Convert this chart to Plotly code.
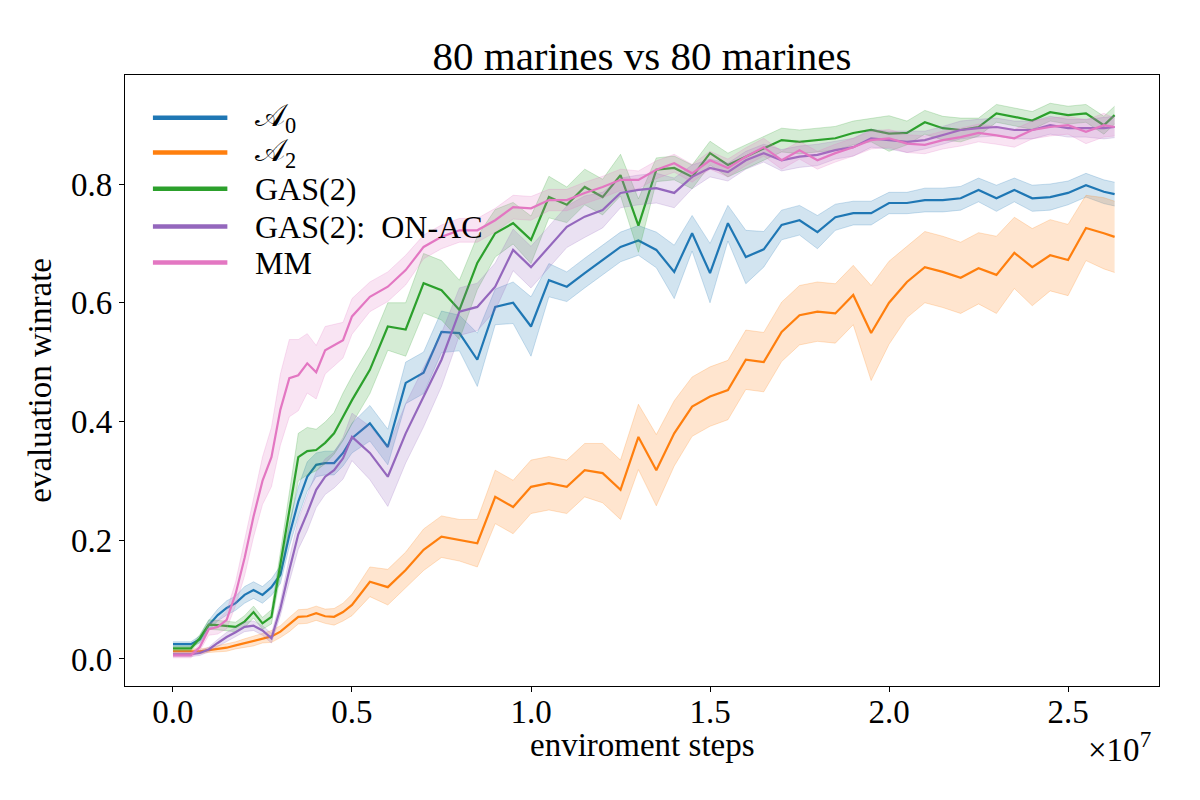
import plotly.graph_objects as go

# environment steps, in units of 1e7
steps_e7 = [0.0, 0.025, 0.05, 0.075, 0.1, 0.125, 0.15, 0.175, 0.2, 0.225, 0.25, 0.275, 0.3,
            0.325, 0.35, 0.375, 0.4, 0.425, 0.45, 0.475, 0.5, 0.55, 0.6, 0.65, 0.7, 0.75, 0.8,
            0.85, 0.9, 0.95, 1.0, 1.05, 1.1, 1.15, 1.2, 1.25, 1.3, 1.35, 1.4, 1.45, 1.5, 1.55,
            1.6, 1.65, 1.7, 1.75, 1.8, 1.85, 1.9, 1.95, 2.0, 2.05, 2.1, 2.15, 2.2, 2.25, 2.3,
            2.35, 2.4, 2.45, 2.5, 2.55, 2.6, 2.63]

a0_mean = [0.025, 0.025, 0.025, 0.033, 0.057, 0.074, 0.086, 0.094, 0.108, 0.116, 0.108, 0.121, 0.142,
           0.209, 0.265, 0.307, 0.327, 0.330, 0.330, 0.347, 0.372, 0.397, 0.357, 0.465, 0.482, 0.551, 0.549,
           0.504, 0.593, 0.600, 0.560, 0.638, 0.627, 0.650, 0.672, 0.694, 0.705, 0.689, 0.652, 0.717, 0.650, 0.734,
           0.677, 0.690, 0.731, 0.739, 0.719, 0.744, 0.751, 0.751, 0.768, 0.768, 0.773, 0.773, 0.776, 0.790, 0.776,
           0.790, 0.776, 0.778, 0.785, 0.798, 0.787, 0.783]
a0_spread = [0.004, 0.004, 0.004, 0.006, 0.008, 0.010, 0.012, 0.012, 0.014, 0.014, 0.014, 0.014, 0.015,
             0.020, 0.025, 0.025, 0.020, 0.020, 0.020, 0.022, 0.025, 0.030, 0.030, 0.035, 0.035, 0.035, 0.030,
             0.045, 0.030, 0.035, 0.050, 0.028, 0.025, 0.025, 0.025, 0.025, 0.025, 0.030, 0.045, 0.030, 0.050, 0.030,
             0.045, 0.030, 0.025, 0.025, 0.028, 0.022, 0.020, 0.020, 0.018, 0.018, 0.020, 0.020, 0.020, 0.020, 0.022,
             0.020, 0.022, 0.022, 0.020, 0.020, 0.020, 0.020]

a2_mean = [0.013, 0.013, 0.013, 0.013, 0.015, 0.017, 0.019, 0.023, 0.027, 0.030, 0.035, 0.038, 0.046,
           0.058, 0.071, 0.072, 0.077, 0.072, 0.071, 0.079, 0.091, 0.130, 0.121, 0.150, 0.184, 0.206, 0.200,
           0.195, 0.273, 0.256, 0.290, 0.296, 0.290, 0.318, 0.313, 0.285, 0.374, 0.318, 0.380, 0.425, 0.442, 0.453,
           0.504, 0.500, 0.551, 0.579, 0.585, 0.582, 0.613, 0.549, 0.600, 0.635, 0.660, 0.652, 0.642, 0.658, 0.647,
           0.684, 0.660, 0.680, 0.672, 0.726, 0.717, 0.711]
a2_spread = [0.004, 0.004, 0.004, 0.004, 0.004, 0.005, 0.006, 0.006, 0.007, 0.008, 0.008, 0.010, 0.010,
             0.012, 0.012, 0.012, 0.012, 0.012, 0.014, 0.015, 0.018, 0.025, 0.030, 0.030, 0.035, 0.035, 0.035,
             0.040, 0.045, 0.045, 0.045, 0.045, 0.045, 0.045, 0.050, 0.050, 0.055, 0.060, 0.055, 0.050, 0.050, 0.050,
             0.050, 0.050, 0.050, 0.050, 0.050, 0.050, 0.050, 0.080, 0.070, 0.060, 0.060, 0.060, 0.060, 0.060, 0.065,
             0.060, 0.065, 0.060, 0.060, 0.055, 0.060, 0.060]

gas_mean = [0.018, 0.018, 0.018, 0.035, 0.058, 0.057, 0.055, 0.054, 0.063, 0.079, 0.060, 0.071, 0.160,
            0.250, 0.340, 0.350, 0.352, 0.364, 0.380, 0.408, 0.436, 0.487, 0.560, 0.555, 0.633, 0.621, 0.588,
            0.667, 0.717, 0.734, 0.706, 0.778, 0.765, 0.795, 0.778, 0.815, 0.730, 0.824, 0.827, 0.812, 0.852, 0.832,
            0.846, 0.861, 0.874, 0.871, 0.874, 0.877, 0.886, 0.891, 0.885, 0.886, 0.904, 0.894, 0.891, 0.896, 0.919,
            0.913, 0.907, 0.921, 0.916, 0.919, 0.899, 0.916]
gas_spread = [0.004, 0.004, 0.004, 0.006, 0.008, 0.008, 0.008, 0.008, 0.010, 0.010, 0.010, 0.012, 0.020,
              0.030, 0.040, 0.040, 0.035, 0.035, 0.035, 0.040, 0.040, 0.040, 0.040, 0.045, 0.050, 0.050, 0.050,
              0.045, 0.040, 0.035, 0.040, 0.035, 0.030, 0.030, 0.030, 0.035, 0.045, 0.020, 0.020, 0.020, 0.020, 0.020,
              0.020, 0.020, 0.020, 0.020, 0.020, 0.020, 0.020, 0.020, 0.030, 0.020, 0.020, 0.020, 0.020, 0.015, 0.015,
              0.015, 0.015, 0.015, 0.015, 0.015, 0.015, 0.015]

onac_mean = [0.008, 0.008, 0.008, 0.010, 0.016, 0.027, 0.037, 0.045, 0.054, 0.056, 0.048, 0.035, 0.085,
             0.150, 0.210, 0.246, 0.285, 0.307, 0.318, 0.338, 0.374, 0.347, 0.307, 0.380, 0.441, 0.504, 0.585,
             0.593, 0.627, 0.689, 0.660, 0.694, 0.728, 0.745, 0.756, 0.785, 0.790, 0.793, 0.785, 0.812, 0.827, 0.820,
             0.840, 0.852, 0.840, 0.846, 0.849, 0.857, 0.862, 0.877, 0.874, 0.871, 0.874, 0.882, 0.891, 0.894, 0.896,
             0.891, 0.891, 0.899, 0.894, 0.894, 0.894, 0.896]
onac_spread = [0.004, 0.004, 0.004, 0.004, 0.004, 0.006, 0.008, 0.008, 0.008, 0.008, 0.008, 0.008, 0.012,
               0.020, 0.025, 0.030, 0.030, 0.030, 0.030, 0.035, 0.040, 0.045, 0.050, 0.050, 0.050, 0.045, 0.040,
               0.040, 0.040, 0.035, 0.035, 0.035, 0.035, 0.035, 0.030, 0.025, 0.025, 0.025, 0.025, 0.020, 0.015, 0.015,
               0.015, 0.015, 0.018, 0.018, 0.018, 0.015, 0.015, 0.015, 0.015, 0.018, 0.015, 0.015, 0.015, 0.015, 0.015,
               0.015, 0.015, 0.015, 0.015, 0.015, 0.018, 0.018]

mm_mean = [0.006, 0.006, 0.006, 0.020, 0.050, 0.054, 0.066, 0.110, 0.170, 0.240, 0.300, 0.340, 0.420,
           0.473, 0.478, 0.498, 0.483, 0.520, 0.529, 0.537, 0.577, 0.610, 0.627, 0.655, 0.694, 0.711, 0.722,
           0.722, 0.739, 0.761, 0.759, 0.773, 0.773, 0.785, 0.795, 0.807, 0.807, 0.824, 0.835, 0.818, 0.840, 0.827,
           0.846, 0.862, 0.840, 0.857, 0.840, 0.852, 0.862, 0.874, 0.877, 0.868, 0.866, 0.874, 0.879, 0.886, 0.882,
           0.877, 0.891, 0.896, 0.899, 0.888, 0.899, 0.896]
mm_spread = [0.004, 0.004, 0.004, 0.006, 0.010, 0.012, 0.015, 0.020, 0.030, 0.035, 0.040, 0.050, 0.060,
             0.065, 0.060, 0.050, 0.045, 0.040, 0.035, 0.030, 0.030, 0.025, 0.025, 0.025, 0.020, 0.020, 0.020,
             0.020, 0.020, 0.020, 0.020, 0.018, 0.018, 0.018, 0.018, 0.018, 0.015, 0.015, 0.015, 0.015, 0.015, 0.015,
             0.015, 0.015, 0.015, 0.015, 0.015, 0.015, 0.015, 0.015, 0.015, 0.015, 0.015, 0.015, 0.015, 0.015, 0.015,
             0.015, 0.015, 0.015, 0.015, 0.020, 0.020, 0.015]

names = ["\U0001D49C<sub>0</sub>", "\U0001D49C<sub>2</sub>", "GAS(2)", "GAS(2):\u2002ON-AC", "MM"]
colors = ["31,119,180", "255,127,14", "44,160,44", "148,103,189", "227,119,194"]
series = [(a0_mean, a0_spread), (a2_mean, a2_spread), (gas_mean, gas_spread),
          (onac_mean, onac_spread), (mm_mean, mm_spread)]

FONT = "Liberation Serif"
x = [s * 1e7 for s in steps_e7]

fig = go.Figure()
for (mean, spread), rgb in zip(series, colors):
    assert len(mean) == len(x) and len(spread) == len(x)
    upper = [m + s for m, s in zip(mean, spread)]
    lower = [m - s for m, s in zip(mean, spread)]
    fig.add_trace(go.Scatter(x=x, y=upper, mode="lines", showlegend=False,
                             line=dict(color="rgba(%s,0.22)" % rgb, width=1)))
    fig.add_trace(go.Scatter(x=x, y=lower, mode="lines", showlegend=False, fill="tonexty",
                             fillcolor="rgba(%s,0.2)" % rgb,
                             line=dict(color="rgba(%s,0.22)" % rgb, width=1)))
    fig.add_trace(go.Scatter(x=x, y=mean, mode="lines", showlegend=False,
                             line=dict(color="rgb(%s)" % rgb, width=2.2)))

# legend drawn by hand so the line samples are long like matplotlib's
leg_y = [0.930, 0.873, 0.814, 0.752, 0.693]
for name, rgb, ly in zip(names, colors, leg_y):
    fig.add_shape(type="line", xref="paper", yref="paper", x0=0.027, x1=0.099, y0=ly, y1=ly,
                  line=dict(color="rgb(%s)" % rgb, width=4.5))
    fig.add_annotation(xref="paper", yref="paper", x=0.124, y=ly, text=name, showarrow=False,
                       xanchor="left", yanchor="middle", font=dict(family=FONT, size=32, color="black"))

fig.add_annotation(xref="paper", yref="paper", x=0.5, y=-0.097, text="enviroment steps", showarrow=False,
                   xanchor="center", yanchor="middle", font=dict(family=FONT, size=33, color="black"))
fig.add_annotation(xref="paper", yref="paper", x=-0.083, y=0.5, text="evaluation winrate", showarrow=False,
                   textangle=-90, xanchor="center", yanchor="middle",
                   font=dict(family=FONT, size=33, color="black"))
fig.add_annotation(xref="paper", yref="paper", x=0.994, y=-0.1, text="\u00d710<sup>7</sup>", showarrow=False,
                   xanchor="right", yanchor="middle", font=dict(family=FONT, size=33, color="black"))

axis_style = dict(showline=True, mirror=True, linecolor="black", linewidth=1.2, ticks="outside",
                  ticklen=5, tickwidth=1.2, tickcolor="black", showgrid=False, zeroline=False,
                  tickfont=dict(family=FONT, size=33, color="black"))

fig.update_layout(
    width=1200, height=800,
    paper_bgcolor="white", plot_bgcolor="white",
    margin=dict(l=125, r=41, t=75, b=114),
    showlegend=False,
    title=dict(text="80 marines vs 80 marines", x=0.535, xanchor="center", y=0.931, yanchor="middle",
               yref="container", font=dict(family=FONT, size=41, color="black")),
    xaxis=dict(range=[-0.134e7, 2.754e7], tickvals=[0, 0.5e7, 1.0e7, 1.5e7, 2.0e7, 2.5e7],
               ticktext=["0.0", "0.5", "1.0", "1.5", "2.0", "2.5"], ticklabelstandoff=-9, **axis_style),
    yaxis=dict(range=[-0.0455, 0.9836], tickvals=[0, 0.2, 0.4, 0.6, 0.8],
               ticktext=["0.0", "0.2", "0.4", "0.6", "0.8"], **axis_style),
)

# page body margin would shift the figure by 8px
fig.write_html("out.html", config={"displayModeBar": False},
               post_script="document.body.style.margin='0';")
